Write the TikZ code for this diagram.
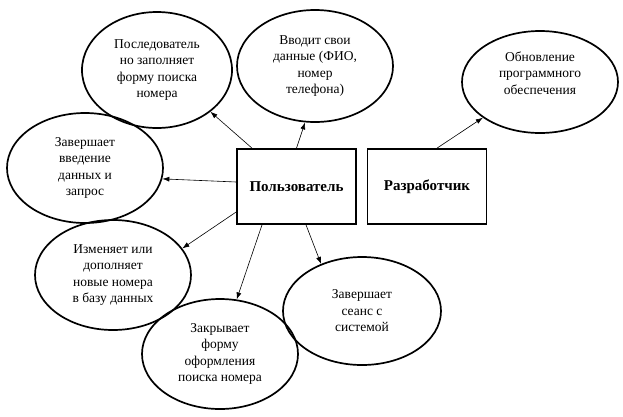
\documentclass[tikz,border=0pt]{standalone}
\usepackage{fontspec}
\setmainfont{Liberation Serif}
\usetikzlibrary{shapes.geometric,arrows.meta}
\begin{document}
\begin{tikzpicture}[x=1pt,y=-1pt,
  oval/.style={draw,line width=1.7pt,ellipse,inner sep=0pt,minimum width=156pt,minimum height=110pt,align=center,font=\fontsize{13.5}{16.5}\selectfont},
  actor/.style={draw,line width=1.7pt,inner sep=0pt,minimum width=119pt,minimum height=75pt,font=\fontsize{15}{18}\selectfont\bfseries},
  arr/.style={-{Latex[length=7pt,width=5pt]},line width=0.6pt}]
\useasboundingbox (0,0) rectangle (623,416);
\node[actor] (polz) at (296.5,186.5) {Пользователь};
\node[actor] (razrab) at (427,186.5) {Разработчик};
\node[oval,minimum width=150pt,minimum height=116pt] (posl) at (157,70) {Последователь\\но заполняет\\форму поиска\\номера};
\node[oval,minimum height=112pt] (vvod) at (315,66) {Вводит свои\\данные (ФИО,\\номер\\телефона)};
\node[oval,minimum height=102pt] (obnov) at (540,82) {Обновление\\программного\\обеспечения\\[2pt]};
\node[oval] (zaversh) at (85,168) {Завершает\\введение\\данных и\\запрос};
\node[oval] (izmen) at (113,275) {Изменяет или\\дополняет\\новые номера\\в базу данных};
\node[oval] (zakr) at (220,354) {Закрывает\\форму\\оформления\\поиска номера};
\node[oval,minimum width=158pt,minimum height=108pt] (seans) at (362,311) {Завершает\\сеанс с\\системой};
\draw[arr] ([xshift=-44.5]polz.north) -- (posl.322);
\draw[arr] (polz.north) -- (vvod.260);
\draw[arr] ([yshift=4.5]polz.west) -- (zaversh.352);
\draw[arr] ([yshift=-25.5]polz.west) -- (izmen.21);
\draw[arr] ([xshift=-34.5]polz.south) -- (zakr.73);
\draw[arr] ([xshift=9.5]polz.south) -- (seans.131);
\draw[arr] ([xshift=10]razrab.north) -- (obnov.212);
\end{tikzpicture}
\end{document}
